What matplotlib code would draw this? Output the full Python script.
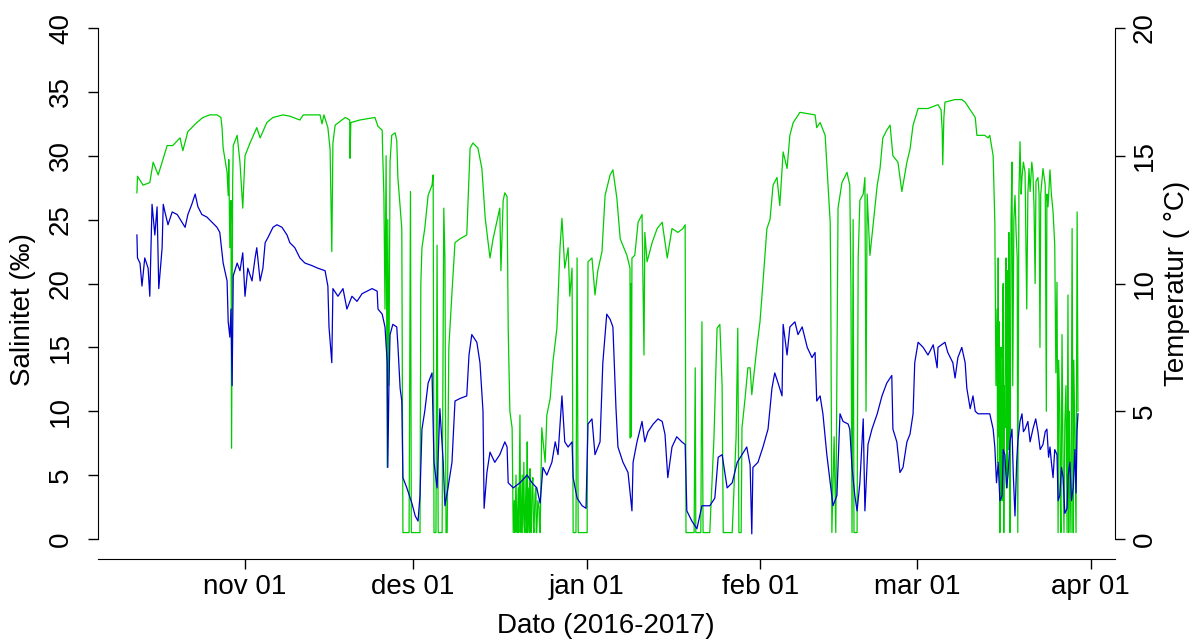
import numpy as np
import matplotlib
matplotlib.use("Agg")
import matplotlib.pyplot as plt

plt.rcParams['font.family'] = ['Liberation Sans', 'DejaVu Sans']

# Dager etter 2016-11-01 og salinitet (promille), lest av figuren
sal_day = [-19.3, -19.2, -18.2, -17.0, -16.4, -15.5, -14.6, -13.9, -12.9, -11.6,
           -11.1, -10.2, -8.6, -7.5, -6.3, -5.0, -4.3, -4.1, -3.9, -3.2,
           -3.0, -2.9, -2.7, -2.5, -2.4, -2.2, -2.1, -1.4, -0.9, -0.4,
           0.0, 0.9, 2.1, 2.7, 3.9, 5.0, 6.8, 8.0, 9.8, 10.4,
           13.4, 13.75, 14.1, 14.8, 15.2, 15.5, 15.7, 16.1, 17.9, 18.7,
           18.75, 18.9, 20.5, 23.2, 23.75, 24.5, 24.6, 24.8, 25.0, 25.2,
           25.4, 25.5, 25.7, 25.9, 26.2, 26.8, 27.1, 27.3, 27.7, 28.0,
           28.2, 28.9, 29.3, 29.55, 29.7, 30.9, 31.25, 31.4, 31.6, 32.1,
           32.7, 33.4, 33.6, 33.75, 34.1, 34.3, 34.5, 35.2, 35.5, 35.7,
           35.9, 36.1, 36.4, 37.0, 37.5, 38.4, 39.6, 39.8, 40.2, 40.7,
           41.6, 42.3, 42.9, 43.75, 44.3, 45.5, 45.7, 46.1, 46.4, 46.8,
           47.0, 47.3, 47.7,
           47.9, 48.1, 48.2, 48.4, 48.5, 48.6, 48.8, 48.9, 49.1, 49.2,
           49.3, 49.5, 49.6, 49.8, 49.9, 50.0, 50.2, 50.3, 50.4, 50.5,
           50.7, 50.8, 50.9, 51.0, 51.1, 51.25, 51.4, 51.5, 51.6, 51.8,
           51.96, 52.0, 52.1, 52.3, 52.5, 52.6, 52.7,
           53.0, 53.6, 53.9, 54.5, 55.0, 55.7, 56.25, 56.6, 57.1, 57.7,
           58.0, 58.4, 58.6, 59.1, 59.3, 59.5, 61.1, 61.25, 61.96, 62.5,
           63.0, 63.75, 64.3, 65.2, 65.7, 66.4, 67.0, 68.2, 68.75, 68.8,
           68.9, 69.0, 69.1, 69.6, 70.2, 70.9, 71.25, 71.4, 71.8, 72.7,
           73.6, 74.5, 75.4, 76.25, 77.3, 78.2, 78.6, 78.75, 80.2, 80.4,
           80.5, 81.4, 81.6, 81.8, 83.0, 83.75, 84.3, 84.8, 85.2, 85.4,
           87.0, 87.7, 88.0, 88.2, 88.6, 88.75, 89.3, 89.8, 90.2, 90.5,
           91.4, 91.96, 92.5, 93.2, 93.75, 94.3, 95.0, 95.5, 96.1, 96.8,
           97.3, 97.9, 99.1, 100.4, 101.8, 102.1, 102.7, 103.6, 103.9, 104.5,
           104.6, 104.8, 105.2, 105.5, 105.9, 106.6, 107.5, 108.0, 108.2, 108.4,
           108.6, 108.75, 109.3, 109.5, 109.8, 110.4, 110.7, 110.9, 111.1, 111.6,
           112.1, 112.9, 113.4, 113.9, 114.6, 115.2, 115.7, 116.6, 117.3, 118.2,
           118.75, 119.3, 120.2, 121.96, 123.75, 124.3, 124.5, 124.6, 124.8, 125.0,
           126.8, 128.0, 128.6, 129.5, 130.4, 130.7, 132.1, 132.7, 133.0, 133.6,
           133.9, 134.1, 134.3, 134.4, 134.5, 134.6, 134.7, 134.8, 134.9, 135.0,
           135.1, 135.2, 135.3, 135.4, 135.45, 135.5, 135.6, 135.7, 135.8, 135.9,
           136.0, 136.1, 136.2, 136.25, 136.3, 136.4, 136.5, 136.6, 136.8, 136.96,
           137.1, 137.3, 137.5, 137.7, 137.9, 138.0, 138.2, 138.4, 138.6, 138.75,
           139.0, 139.3, 139.6, 139.8, 140.0, 140.2, 140.5, 140.7, 140.9, 141.1,
           141.25, 141.6, 141.8, 141.96, 142.1, 142.5, 142.9, 143.1, 143.2, 143.4,
           143.75, 144.0, 144.3, 144.6, 144.8, 145.0, 145.2, 145.3, 145.5, 145.6,
           145.7, 145.9, 146.1, 146.25, 146.4, 146.6, 146.8, 146.96, 147.1, 147.2,
           147.3, 147.5, 147.7, 147.9, 148.0, 148.2, 148.4, 148.6, 148.75]
sal_val = [27.1, 28.4, 27.7, 27.9, 29.5, 28.5, 29.8, 30.8, 30.8, 31.4,
           30.4, 31.9, 32.6, 33.0, 33.2, 33.2, 33.0, 32.2, 30.6, 28.7,
           26.9, 29.7, 22.8, 26.5, 7.1, 28.0, 30.8, 31.6, 29.5, 25.9,
           30.0, 31.0, 32.2, 31.4, 32.6, 33.0, 33.2, 33.1, 32.8, 33.2,
           33.2, 32.5, 33.2, 32.2, 30.5, 22.5, 31.0, 32.4, 33.0, 32.8,
           29.8, 32.6, 32.8, 33.0, 32.3, 32.0, 30.0, 27.0, 18.0, 30.0,
           5.6, 25.0, 12.0, 29.5, 31.6, 31.8, 31.2, 28.3, 26.0, 24.3,
           0.5, 0.5, 0.5, 27.2, 0.5, 0.5, 0.5, 20.0, 22.8, 24.3,
           26.9, 27.7, 28.5, 0.5, 0.5, 23.0, 0.5, 0.5, 25.9, 22.0,
           0.5, 0.5, 15.0, 19.6, 23.2, 23.5, 23.8, 26.0, 30.6, 31.0,
           30.6, 29.0, 25.1, 22.0, 23.5, 25.9, 21.0, 26.5, 27.1, 26.8,
           16.5, 10.0, 8.7,
           0.5, 3.0, 0.5, 5.0, 1.0, 0.5, 4.0, 0.5, 9.7, 2.0,
           0.5, 5.0, 0.5, 6.0, 1.0, 0.5, 5.0, 0.5, 7.6, 0.5,
           4.0, 0.5, 5.5, 1.0, 0.5, 4.0, 4.8, 1.0, 0.5, 3.5,
           4.0, 0.5, 0.5, 3.0, 2.5, 1.0, 0.5,
           8.7, 6.0, 9.7, 11.0, 13.9, 16.5, 22.8, 25.1, 21.2, 22.8,
           19.0, 21.2, 0.5, 0.5, 22.0, 0.5, 0.5, 21.7, 22.0, 19.1,
           21.0, 22.5, 26.9, 28.5, 28.9, 26.7, 23.5, 22.2, 21.2, 7.9,
           20.0, 8.0, 22.0, 22.2, 24.8, 25.4, 14.4, 24.0, 21.7, 23.2,
           24.3, 24.8, 22.0, 24.3, 24.0, 24.3, 24.6, 0.5, 0.5, 13.4,
           0.5, 0.5, 17.0, 0.5, 0.5, 8.0, 16.5, 16.8, 12.0, 0.5,
           0.5, 8.0, 16.5, 0.5, 0.5, 8.7, 11.0, 13.4, 13.4, 11.3,
           15.0, 17.0, 20.1, 24.3, 25.0, 27.7, 28.3, 26.1, 30.3, 29.0,
           31.6, 32.6, 33.4, 33.3, 33.2, 32.2, 32.6, 31.6, 29.3, 24.8,
           20.0, 0.5, 8.0, 0.5, 25.9, 27.9, 28.7, 27.7, 20.0, 0.5,
           25.0, 0.5, 0.5, 22.0, 26.5, 27.0, 28.3, 10.0, 27.0, 22.2,
           24.3, 27.7, 29.0, 31.4, 32.0, 32.4, 30.0, 29.5, 27.2, 29.5,
           30.5, 32.4, 33.7, 33.7, 34.0, 33.6, 32.0, 29.3, 33.0, 34.2,
           34.4, 34.4, 34.2, 33.6, 33.0, 31.6, 31.6, 31.4, 31.6, 30.0,
           24.8, 12.0, 18.0, 6.0, 22.0, 8.0, 17.0, 0.5, 14.0, 15.0,
           5.0, 3.0, 19.0, 20.0, 9.0, 0.5, 12.0, 8.7, 18.0, 22.0,
           10.0, 4.0, 21.0, 16.5, 7.0, 24.0, 14.0, 0.5, 25.0, 29.5,
           12.0, 25.0, 26.9, 24.0, 22.0, 0.5, 27.0, 31.1, 27.0, 28.3,
           29.5, 28.7, 18.0, 27.0, 29.0, 27.2, 29.5, 28.7, 26.0, 20.0,
           28.0, 28.3, 27.0, 15.0, 27.0, 29.0, 27.7, 10.0, 27.0, 26.0,
           28.9, 27.0, 25.6, 23.0, 13.0, 20.1, 0.5, 14.0, 10.0, 3.0,
           0.5, 16.0, 5.0, 0.5, 9.0, 12.0, 0.5, 19.1, 0.5, 10.0,
           6.0, 0.5, 24.3, 0.5, 14.0, 8.0, 0.5, 25.6, 10.0]

# Dager etter 2016-11-01 og temperatur (grader C), lest av figuren
temp_day = [-19.3, -19.2, -18.75, -18.4, -17.9, -17.3, -17.0, -16.6, -16.1, -15.7,
            -15.4, -14.8, -14.6, -14.3, -13.75, -13.0, -12.1, -11.25, -10.7, -10.2,
            -9.5, -8.9, -8.4, -7.7, -6.8, -5.9, -5.0, -4.5, -4.1, -3.9,
            -3.2, -3.0, -2.7, -2.5, -2.3, -2.1, -1.4, -0.9, -0.4, 0.0,
            0.5, 1.25, 1.8, 2.1, 2.7, 3.2, 3.6, 4.1, 5.0, 5.7,
            6.6, 7.5, 8.0, 8.9, 9.8, 10.7, 11.96, 13.0, 14.3, 14.8,
            15.0, 15.5, 15.7, 16.6, 17.5, 18.2, 19.1, 20.0, 20.9, 21.8,
            22.7, 23.6, 23.75, 24.5, 25.0, 25.4, 25.5, 25.7, 25.9, 26.4,
            27.1, 27.3, 27.7, 28.0, 28.2, 28.9, 29.8, 30.4, 30.9, 31.25,
            31.6, 32.1, 32.7, 33.4, 33.75, 34.3, 34.8, 35.4, 35.7, 36.25,
            36.96, 37.5, 38.4, 39.6, 40.0, 40.5, 41.4, 41.96, 42.5, 42.7,
            43.2, 43.75, 44.6, 45.5, 46.4, 46.8, 47.0, 47.9, 49.1, 50.4,
            51.25, 52.1, 52.7, 53.2, 53.9, 54.8, 55.4, 55.9, 56.6, 57.1,
            57.7, 58.4, 58.6, 59.3, 60.2, 60.9, 61.25, 61.96, 62.5, 63.4,
            63.9, 64.6, 65.2, 65.7, 66.25, 66.6, 67.5, 68.4, 69.1, 69.3,
            70.0, 70.9, 71.4, 71.96, 72.9, 73.75, 74.5, 75.0, 75.5, 76.25,
            77.1, 78.0, 78.6, 78.9, 79.8, 80.7, 81.6, 83.0, 83.9, 84.5,
            85.2, 86.1, 87.0, 87.9, 88.75, 89.6, 90.2, 90.5, 90.7, 91.6,
            92.5, 93.4, 94.1, 94.6, 95.2, 95.9, 96.1, 96.8, 97.3, 98.2,
            98.75, 99.5, 100.4, 101.25, 101.8, 102.1, 102.7, 103.2, 103.9, 104.5,
            105.0, 105.7, 106.25, 106.8, 107.7, 108.0, 108.4, 108.9, 109.3, 109.8,
            110.4, 110.7, 111.25, 111.96, 112.9, 113.75, 114.6, 115.5, 115.7, 116.4,
            116.96, 117.5, 118.2, 118.75, 119.3, 119.6, 120.2, 121.1, 121.96, 122.9,
            123.6, 123.75, 125.0, 125.5, 126.4, 126.8, 127.3, 128.0, 128.6, 128.9,
            129.5, 130.0, 130.4, 130.9, 132.1, 133.0, 133.6,
            133.9, 134.2, 134.5, 134.8, 135.2, 135.4, 135.7, 136.0, 136.25, 136.6,
            136.96, 137.2, 137.5, 137.8, 138.0, 138.4, 138.75, 139.0, 139.3, 139.8,
            140.2, 140.7, 141.2, 141.6, 142.0, 142.5, 142.9, 143.2, 143.5, 143.75,
            144.0, 144.3, 144.6, 145.0, 145.2, 145.5, 145.8, 146.1, 146.4, 146.8,
            147.0, 147.3, 147.6, 147.9, 148.2, 148.4, 148.6, 148.75]
temp_val = [11.9, 11.0, 10.8, 9.9, 11.0, 10.6, 9.5, 13.1, 11.9, 13.0,
            9.8, 11.4, 13.1, 12.8, 12.3, 12.8, 12.7, 12.4, 12.2, 12.7,
            13.1, 13.5, 13.0, 12.7, 12.6, 12.4, 12.2, 12.0, 11.2, 10.8,
            10.1, 8.5, 7.9, 9.0, 6.0, 10.3, 10.8, 10.5, 11.2, 9.5,
            10.6, 10.1, 11.0, 11.4, 10.1, 10.6, 11.6, 11.8, 12.2, 12.3,
            12.2, 11.9, 11.6, 11.4, 11.0, 10.8, 10.7, 10.6, 10.5, 9.9,
            8.3, 6.9, 9.8, 9.5, 9.8, 9.0, 9.5, 9.3, 9.6, 9.7,
            9.8, 9.7, 9.0, 8.8, 8.3, 6.9, 2.8, 6.0, 8.0, 8.4,
            8.3, 7.6, 5.9, 5.4, 2.4, 2.0, 1.4, 0.9, 0.7, 1.7,
            4.3, 5.0, 6.1, 6.5, 3.0, 2.0, 5.1, 3.0, 1.3, 2.0,
            3.0, 5.4, 5.5, 5.6, 7.2, 8.0, 7.7, 6.9, 5.0, 1.2,
            2.6, 3.4, 3.0, 3.3, 3.8, 3.6, 2.2, 2.0, 2.2, 2.5,
            2.2, 2.0, 1.4, 2.8, 2.5, 3.0, 3.8, 3.3, 5.6, 3.8,
            3.6, 3.8, 2.4, 1.6, 1.3, 1.2, 4.5, 4.7, 3.3, 3.8,
            6.9, 8.8, 8.6, 8.3, 5.1, 3.6, 3.0, 2.6, 1.1, 3.0,
            3.8, 4.6, 3.8, 4.2, 4.5, 4.7, 4.6, 4.1, 2.4, 3.6,
            4.0, 3.8, 3.7, 1.1, 0.7, 0.4, 1.3, 1.3, 1.6, 3.2,
            3.3, 2.0, 2.2, 3.0, 3.3, 3.6, 2.9, 0.2, 2.8, 3.0,
            3.6, 4.3, 5.9, 6.5, 6.1, 5.6, 8.4, 7.2, 8.3, 8.5,
            8.0, 8.3, 7.5, 7.1, 7.3, 5.4, 5.6, 4.9, 3.3, 2.2,
            1.3, 1.7, 4.9, 4.6, 4.5, 4.3, 2.8, 1.7, 1.1, 2.2,
            4.7, 1.1, 3.7, 4.3, 4.9, 5.6, 6.1, 6.4, 4.3, 3.8,
            2.6, 2.8, 3.8, 4.1, 4.9, 6.9, 7.7, 7.5, 7.2, 7.6,
            6.7, 7.5, 7.7, 7.3, 6.9, 6.3, 7.1, 7.5, 6.9, 5.9,
            5.1, 5.6, 5.0, 4.9, 4.9, 4.9, 4.3,
            3.6, 2.2, 3.0, 1.5, 1.7, 3.5, 3.3, 2.0, 2.5, 3.8,
            4.3, 2.5, 0.9, 3.0, 3.8, 4.6, 4.9, 4.2, 4.3, 4.6,
            3.8, 4.3, 4.7, 4.2, 3.5, 3.7, 4.2, 4.3, 3.2, 3.6,
            3.0, 2.4, 3.5, 3.3, 1.5, 1.7, 2.8, 2.4, 1.0, 1.2,
            2.5, 3.0, 1.5, 2.0, 3.5, 1.8, 4.3, 4.9]

tick_dates = ['2016-11-01', '2016-12-01', '2017-01-01', '2017-02-01', '2017-03-01', '2017-04-01']
tick_labels = ['nov 01', 'des 01', 'jan 01', 'feb 01', 'mar 01', 'apr 01']

start = np.datetime64('2016-11-01T00:00')


def to_time(days):
    return start + (np.array(days) * 24 * 60).astype('timedelta64[m]')


fig = plt.figure(figsize=(11.97, 6.41), dpi=100)
ax = fig.add_axes([98 / 1197, 81.6 / 641, 1017 / 1197, 551.8 / 641])
ax2 = ax.twinx()

ax.plot(to_time(sal_day), sal_val, color='#00CD00', lw=0.9)
ax2.plot(to_time(temp_day), temp_val, color='#0000CD', lw=0.9)

ax.set_xlim(to_time([-26.25])[0], to_time([155.36])[0])
ax.set_ylim(-1.6, 41.6)
ax2.set_ylim(-0.8, 20.8)

ax.set_xticks(np.array(tick_dates, dtype='datetime64[m]'))
ax.set_xticklabels(tick_labels)
ax.set_yticks(range(0, 41, 5))
ax2.set_yticks(range(0, 21, 5))

for s in ['top', 'right']:
    ax.spines[s].set_visible(False)
for s in ['top', 'left', 'bottom']:
    ax2.spines[s].set_visible(False)
ax.spines['left'].set_bounds(0, 40)
ax2.spines['right'].set_bounds(0, 20)

ax.tick_params(axis='x', length=7.2, width=1, labelsize=20, pad=3)
ax.tick_params(axis='y', length=7.2, width=1, labelsize=20, pad=10)
ax2.tick_params(axis='y', length=7.2, width=1, labelsize=20, pad=5)
for lab in ax.get_yticklabels() + ax2.get_yticklabels():
    lab.set_rotation(90)
    lab.set_va('center')

fig.text(23 / 1197, 1 - 310 / 641, 'Salinitet (‰)', rotation=90, ha='center', va='center', fontsize=20)
fig.text(606 / 1197, 1 - 626 / 641, 'Dato (2016-2017)', ha='center', va='center', fontsize=20)
fig.text(1177 / 1197, 1 - 283 / 641, 'Temperatur ( °C)', rotation=90, ha='center', va='center', fontsize=20)

fig.savefig('out.png', dpi=100)
